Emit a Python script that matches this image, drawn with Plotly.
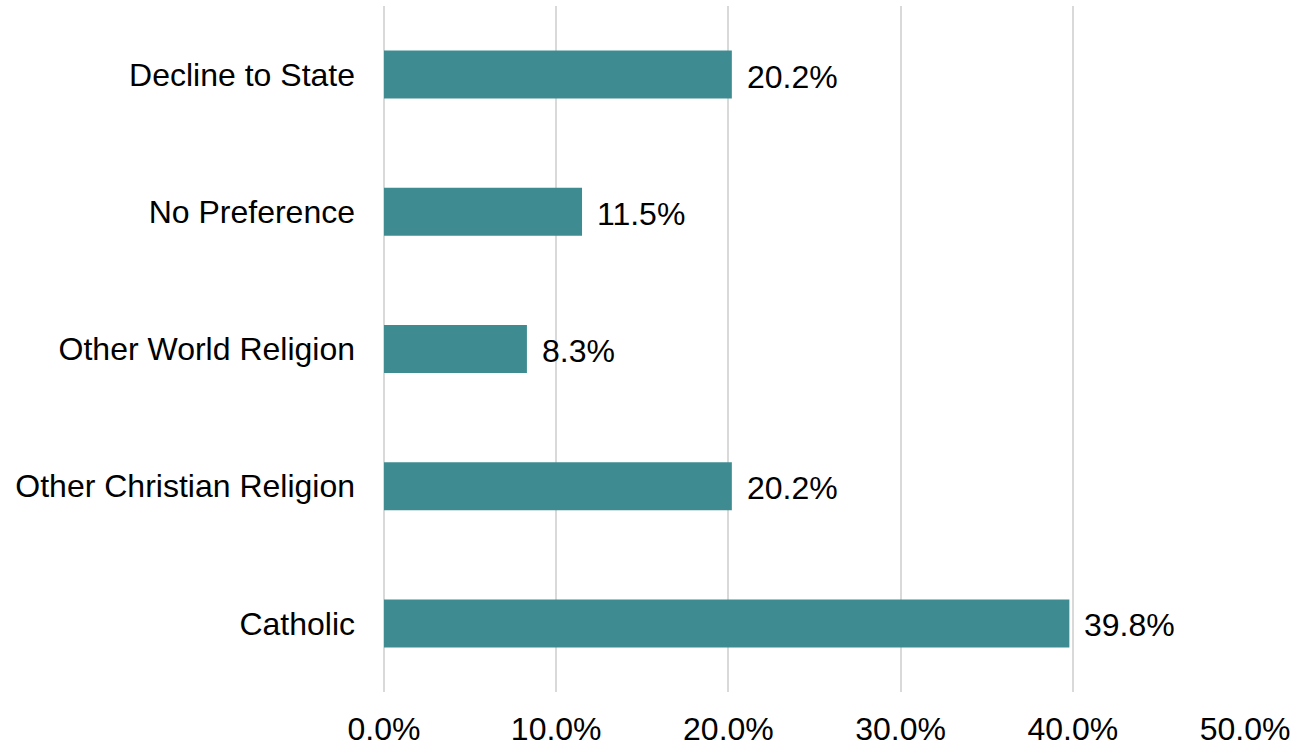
import plotly.graph_objects as go

categories = ["Decline to State", "No Preference", "Other World Religion",
              "Other Christian Religion", "Catholic"]
values = [0.202, 0.115, 0.083, 0.202, 0.398]
labels = ["20.2%", "11.5%", "8.3%", "20.2%", "39.8%"]
x_ticks = [0, 0.1, 0.2, 0.3, 0.4, 0.5]
x_tick_labels = ["0.0%", "10.0%", "20.0%", "30.0%", "40.0%", "50.0%"]

FONT = "Liberation Sans, Arial, sans-serif"
BAR = "#3e8c92"
GRID = "#d9d9d9"

fig = go.Figure(go.Bar(
    y=categories, x=values, orientation="h",
    marker=dict(color=BAR, line=dict(width=0)),
    width=0.35,
    hoverinfo="skip",
))

for c, v, t in zip(categories, values, labels):
    fig.add_annotation(x=v, y=c, text=t, showarrow=False, xanchor="left",
                       yanchor="middle", xshift=13, yshift=-2,
                       font=dict(family=FONT, size=32, color="#000000"))

fig.update_layout(
    width=1298, height=748,
    margin=dict(l=384, r=53, t=6, b=56),
    paper_bgcolor="white", plot_bgcolor="white",
    showlegend=False,
    font=dict(family=FONT, size=32, color="#000000"),
    xaxis=dict(range=[0, 0.5], tickvals=x_ticks, ticktext=x_tick_labels,
               showgrid=True, gridcolor=GRID, gridwidth=2,
               zeroline=True, zerolinecolor=GRID, zerolinewidth=2,
               showline=False, ticks="", automargin=False,
               ticklabelstandoff=15, fixedrange=True),
    yaxis=dict(autorange="reversed", showgrid=False, zeroline=False,
               showline=False, ticks="", ticklabelstandoff=28,
               automargin=False, fixedrange=True),
)

fig.write_html("out.html")
